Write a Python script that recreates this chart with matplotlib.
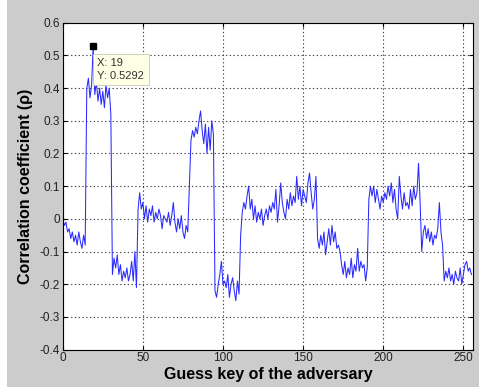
import numpy as np
import matplotlib
matplotlib.use("Agg")
import matplotlib.pyplot as plt
from matplotlib.patches import Rectangle

plt.rcParams['font.family'] = ['Liberation Sans', 'DejaVu Sans']

# correlation per guess key (0..255)
seg0 = [0.0, -0.02, -0.01, -0.04, -0.03, -0.06, -0.04, -0.07, -0.05, -0.08, -0.04, -0.07, -0.09, -0.05, -0.08]
seg1 = [0.40, 0.43, 0.37, 0.41, 0.5292, 0.38, 0.42, 0.36, 0.40, 0.35, 0.39, 0.34, 0.41, 0.37, 0.40, 0.32]
seg2 = [-0.17, -0.12, -0.15, -0.11, -0.17, -0.14, -0.19, -0.16, -0.18, -0.15, -0.19, -0.17, -0.13, -0.19, -0.10, -0.21]
seg3 = [0.03, 0.08, 0.03, 0.05, 0.00, 0.04, -0.01, 0.03, 0.01, 0.04, -0.01, 0.02, 0.00, 0.03, 0.01, -0.03,
        0.01, 0.00, -0.01, 0.02, -0.02, 0.01, 0.05, -0.01, -0.04, 0.00, -0.03, 0.01, -0.04, -0.06, -0.02, -0.04]
seg4 = [0.10, 0.24, 0.27, 0.25, 0.28, 0.26, 0.30, 0.33, 0.27, 0.23, 0.29, 0.20, 0.28, 0.21, 0.30, 0.26]
seg5 = [-0.22, -0.24, -0.20, -0.17, -0.13, -0.20, -0.19, -0.21, -0.17, -0.24, -0.20, -0.18, -0.22, -0.25, -0.19, -0.23]
seg6 = [-0.05, 0.02, 0.05, 0.03, 0.07, 0.10, 0.03, 0.06, 0.00, 0.04, -0.01, 0.02, 0.00, 0.03, -0.02, 0.01,
        0.03, 0.00, 0.04, 0.02, 0.05, 0.03, 0.09, -0.01, 0.04, 0.11, 0.05, 0.02, 0.00, 0.06, 0.03, 0.08,
        0.04, 0.07, 0.05, 0.13, 0.06, 0.10, 0.04, 0.09, 0.07, 0.05, 0.11, 0.14, 0.08, 0.03, 0.06, 0.13]
seg7 = [-0.06, -0.09, -0.05, -0.08, -0.04, -0.11, -0.07, -0.03, -0.08, -0.02, -0.07, -0.04, -0.09, -0.08]
seg8 = [-0.10, -0.14, -0.17, -0.13, -0.18, -0.15, -0.17, -0.12, -0.18, -0.14, -0.16, -0.09, -0.16, -0.13,
        -0.15, -0.14, -0.19, -0.15]
seg9 = [0.06, 0.10, 0.07, 0.10, 0.05, 0.09, 0.06, 0.03, 0.07, 0.05, 0.08, 0.06, 0.10, 0.07, 0.11, 0.05,
        0.09, 0.03, 0.00, 0.13, 0.07, 0.03, 0.08, 0.04, 0.05, 0.03, 0.09, 0.04, 0.10, 0.06, 0.08, 0.17]
seg10 = [0.05, -0.10, -0.04, -0.02, -0.06, -0.03, -0.07, -0.04, -0.08, -0.05, -0.06, -0.03, 0.05, -0.04, -0.08]
seg11 = [-0.19, -0.16, -0.18, -0.15, -0.19, -0.17, -0.20, -0.16, -0.18, -0.19, -0.15, -0.20, -0.17, -0.14,
         -0.13, -0.16, -0.15, -0.17]

rho = seg0 + seg1 + seg2 + seg3 + seg4 + seg5 + seg6 + seg7 + seg8 + seg9 + seg10 + seg11
keys = np.arange(len(rho))

tip_x = 19
tip_y = 0.5292

fig = plt.figure(figsize=(4.79, 3.87), dpi=100, facecolor='white')
# gray matlab figure background (thin white strip on the left)
fig.patches.append(Rectangle((7 / 479, 0), 1, 1, transform=fig.transFigure,
                             facecolor='#cccccc', edgecolor='none', zorder=-1))

ax = fig.add_axes([0.131, 0.0964, 0.8565, 0.845])
ax.plot(keys, rho, color='#2a2aff', lw=0.75)

ax.set_xlim(0, 256)
ax.set_ylim(-0.4, 0.6)
ax.set_xticks([0, 50, 100, 150, 200, 250])
ax.set_yticks(np.round(np.arange(-0.4, 0.61, 0.1), 1))
ax.set_yticklabels(['-0.4', '-0.3', '-0.2', '-0.1', '0', '0.1', '0.2', '0.3', '0.4', '0.5', '0.6'])
ax.grid(True, color='#444444', linestyle=(0, (1.2, 2.2)), linewidth=0.8)
ax.tick_params(direction='in', top=True, right=True, labelsize=8.5, length=3, pad=2,
               labelcolor='#222222')
for s in ax.spines.values():
    s.set_linewidth(0.8)

ax.set_xlabel('Guess key of the adversary', fontsize=11.5, fontweight='bold', labelpad=2)
ax.set_ylabel('Correlation coefficient (ρ)', fontsize=11.5, fontweight='bold', labelpad=5)

# data tip
ax.plot([tip_x], [tip_y], marker='s', color='black', ms=5, zorder=5)
ax.annotate('X: 19\nY: 0.5292', xy=(tip_x, tip_y), xytext=(3, -17), textcoords='offset points',
            fontsize=8, va='center', ha='left', linespacing=1.35, color='#333333',
            bbox=dict(boxstyle='square,pad=0.4', fc='#ffffe6', ec='#c8c8b4', lw=0.6))

fig.savefig('out.png', dpi=100, facecolor=fig.get_facecolor())
